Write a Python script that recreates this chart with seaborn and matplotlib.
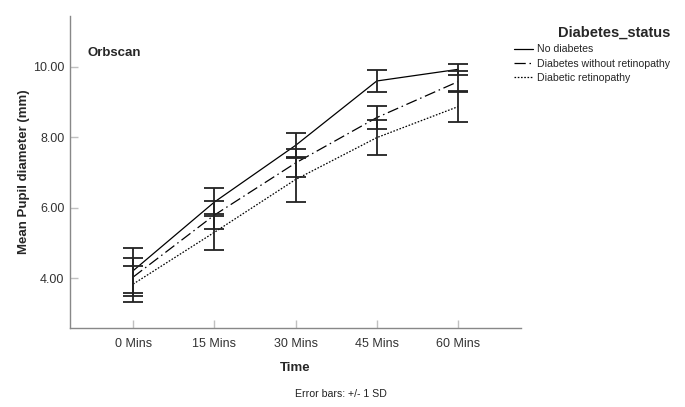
import numpy as np
import pandas as pd
import matplotlib
matplotlib.use("Agg")
import matplotlib.pyplot as plt
import seaborn as sns

# values (mean and +/- 1 SD)
times = ["0 Mins", "15 Mins", "30 Mins", "45 Mins", "60 Mins"]
groups = ["No diabetes", "Diabetes without retinopathy", "Diabetic retinopathy"]
mean_no_diab = [4.21, 6.16, 7.77, 9.60, 9.93]
sd_no_diab = [0.64, 0.40, 0.36, 0.31, 0.16]
mean_diab_no_ret = [4.03, 5.79, 7.27, 8.56, 9.58]
sd_diab_no_ret = [0.55, 0.39, 0.40, 0.33, 0.30]
mean_diab_ret = [3.83, 5.30, 6.80, 7.99, 8.87]
sd_diab_ret = [0.51, 0.51, 0.64, 0.50, 0.44]

means = [mean_no_diab, mean_diab_no_ret, mean_diab_ret]
sds = [sd_no_diab, sd_diab_no_ret, sd_diab_ret]

df = pd.DataFrame({
    "Time": times * 3,
    "Mean": mean_no_diab + mean_diab_no_ret + mean_diab_ret,
    "SD": sd_no_diab + sd_diab_no_ret + sd_diab_ret,
    "Diabetes_status": [g for g in groups for _ in times],
})

sns.set_style("white")
plt.rcParams["font.family"] = ["Liberation Sans", "DejaVu Sans"]

fig = plt.figure(figsize=(6.85, 4.07), dpi=100)
ax = fig.add_axes([0.102, 0.194, 0.659, 0.767])

dash_map = {
    "No diabetes": "",
    "Diabetes without retinopathy": (9, 3, 1.2, 3),
    "Diabetic retinopathy": (1.3, 1.3),
}
sns.lineplot(data=df, x="Time", y="Mean", style="Diabetes_status",
             dashes=dash_map, color="black", linewidth=0.9, ax=ax,
             markers=False, sort=False)

xpos = np.arange(len(times))
for m, s in zip(means, sds):
    ax.errorbar(xpos, m, yerr=s, fmt="none", ecolor="#222222",
                elinewidth=1.3, capsize=7.5, capthick=1.3)

ax.set_xlim(-0.78, 4.78)
ax.set_ylim(2.58, 11.45)
ax.set_yticks([4, 6, 8, 10])
ax.set_yticklabels(["4.00", "6.00", "8.00", "10.00"])

for side in ["top", "right"]:
    ax.spines[side].set_visible(False)
for side in ["left", "bottom"]:
    ax.spines[side].set_color("#888888")
    ax.spines[side].set_linewidth(1.0)
ax.tick_params(axis="both", direction="in", length=6, width=1,
               color="#c0c0c0", bottom=True, left=True,
               labelsize=9, labelcolor="#333333")
ax.tick_params(axis="x", pad=7)
ax.tick_params(axis="y", pad=4)

ax.set_xlabel("Time", fontsize=9.5, fontweight="bold", labelpad=9)
ax.set_ylabel("Mean Pupil diameter (mm)", fontsize=9.5, fontweight="bold",
              labelpad=2)
ax.text(0.04, 0.872, "Orbscan", transform=ax.transAxes, fontsize=9.5,
        fontweight="bold")

fig.text(0.498, 0.032, "Error bars: +/- 1 SD", fontsize=7.6, ha="center",
         va="center", color="#222222")

leg = ax.legend(title="Diabetes_status", loc="upper left",
                bbox_to_anchor=(0.737, 0.96), bbox_transform=fig.transFigure,
                frameon=False, fontsize=7.6, handlelength=1.8,
                handletextpad=0.35, labelspacing=0.42)
leg.get_title().set_fontweight("bold")
leg.get_title().set_fontsize(10.5)
leg._legend_box.align = "right"

fig.savefig("out.png", dpi=100)
